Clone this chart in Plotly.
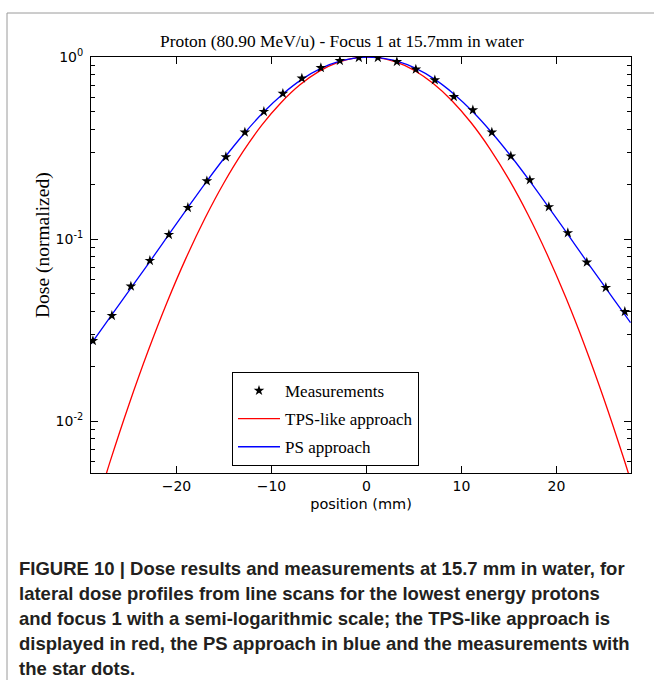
import plotly.graph_objects as go

# Measured lateral dose profile (position in mm, dose normalised to the peak)
meas_pos = [-28.8, -26.8, -24.8, -22.8, -20.8, -18.8, -16.8, -14.8, -12.8, -10.8,
            -8.8, -6.8, -4.8, -2.8, -0.8, 1.2, 3.2, 5.2, 7.2, 9.2,
            11.2, 13.2, 15.2, 17.2, 19.2, 21.2, 23.2, 25.2, 27.2]
meas_dose = [0.0276, 0.0379, 0.0550, 0.0760, 0.1057, 0.1486, 0.2083, 0.2823, 0.3857, 0.5006,
             0.630, 0.764, 0.873, 0.954, 0.991, 0.991, 0.942, 0.856, 0.747, 0.605,
             0.511, 0.386, 0.285, 0.211, 0.150, 0.108, 0.0745, 0.054, 0.0399]

# TPS-like approach
tps_pos = [-29, -27, -25, -23, -21, -19, -17, -15, -13, -11, -9, -7, -5, -3, -1, 0,
           1, 3, 5, 7, 9, 11, 13, 15, 17, 19, 21, 23, 25, 27, 28]
tps_dose = [0.00272, 0.00596, 0.01233, 0.02416, 0.0448, 0.0785, 0.130, 0.2038, 0.302, 0.4236,
            0.561, 0.7036, 0.834, 0.935, 0.9916, 1.0,
            0.9944, 0.943, 0.846, 0.717, 0.575, 0.4365, 0.313, 0.2125, 0.1363, 0.0827,
            0.0475, 0.02577, 0.01322, 0.00642, 0.00438]

# PS approach
ps_pos = [-29.0, -28.8, -26.8, -24.8, -22.8, -20.8, -18.8, -16.8, -14.8, -12.8, -10.8,
          -8.8, -6.8, -4.8, -2.8, -0.8, 0.2, 1.2, 3.2, 5.2, 7.2, 9.2,
          11.2, 13.2, 15.2, 17.2, 19.2, 21.2, 23.2, 25.2, 27.2, 27.8]
ps_dose = [0.0265, 0.0274, 0.0384, 0.0537, 0.0752, 0.1059, 0.1489, 0.2080, 0.2858, 0.3837, 0.5000,
           0.6266, 0.7534, 0.8650, 0.9484, 0.9908, 1.0, 0.9908, 0.9484, 0.8650, 0.7534, 0.6266,
           0.5000, 0.3837, 0.2858, 0.2080, 0.1489, 0.1059, 0.0752, 0.0537, 0.0384, 0.0347]

y_ticks = [0.01, 0.1, 1]
y_ticktext = ["10<sup>-2</sup>", "10<sup>-1</sup>", "10<sup>0</sup>"]
y_minor = [0.006, 0.007, 0.008, 0.009,
           0.02, 0.03, 0.04, 0.05, 0.06, 0.07, 0.08, 0.09,
           0.2, 0.3, 0.4, 0.5, 0.6, 0.7, 0.8, 0.9]
x_ticks = [-20, -10, 0, 10, 20]

caption_lines = [
    "FIGURE 10 | Dose results and measurements at 15.7 mm in water, for",
    "lateral dose profiles from line scans for the lowest energy protons",
    "and focus 1 with a semi-logarithmic scale; the TPS-like approach is",
    "displayed in red, the PS approach in blue and the measurements with",
    "the star dots.",
]

SERIF = "Liberation Serif"
SANS = "DejaVu Sans"

fig = go.Figure()
fig.add_trace(go.Scatter(x=tps_pos, y=tps_dose, mode="lines", name="TPS-like approach",
                         line=dict(color="#ff0000", width=1.3, shape="spline"),
                         legendrank=2, legendgroup="b"))
fig.add_trace(go.Scatter(x=ps_pos, y=ps_dose, mode="lines", name="PS approach",
                         line=dict(color="#0000ff", width=1.3, shape="spline"),
                         legendrank=3, legendgroup="c"))
fig.add_trace(go.Scatter(x=meas_pos, y=meas_dose, mode="markers", name="Measurements",
                         marker=dict(symbol="star", size=8, color="black",
                                     line=dict(width=0)),
                         legendrank=1, legendgroup="a"))

L, R, T, B = 91, 631, 57, 473
W, H = 654, 680


def px(x):
    return (x - L) / (R - L)


def py(y):
    return (B - y) / (B - T)


annotations = [
    dict(text="Proton (80.90 MeV/u) - Focus 1 at 15.7mm in water",
         x=px(342), y=py(41), xref="paper", yref="paper", showarrow=False,
         xanchor="center", yanchor="middle",
         font=dict(family=SERIF, size=17.4, color="black")),
    dict(text="Dose (normalized)", textangle=-90,
         x=px(43), y=py(245), xref="paper", yref="paper", showarrow=False,
         xanchor="center", yanchor="middle",
         font=dict(family=SERIF, size=19.5, color="black")),
]
for i, line in enumerate(caption_lines):
    annotations.append(dict(text="<b>" + line + "</b>", x=px(17), y=py(568 + i * 25),
                            xref="paper", yref="paper", showarrow=False,
                            xanchor="left", yanchor="middle",
                            font=dict(family="Liberation Sans", size=18.5, color="#231f20")))

shapes = [
    dict(type="line", xref="paper", yref="paper", x0=px(7), x1=px(654), y0=py(13), y1=py(13),
         line=dict(color="#9a9a9a", width=1)),
    dict(type="line", xref="paper", yref="paper", x0=px(7), x1=px(7), y0=py(13), y1=py(680),
         line=dict(color="#9a9a9a", width=1)),
]

fig.update_layout(
    width=W, height=H,
    margin=dict(l=L, r=W - R, t=T, b=H - B),
    paper_bgcolor="white", plot_bgcolor="white",
    showlegend=True,
    legend=dict(x=px(232), y=py(372), xanchor="left", yanchor="top",
                bgcolor="white", bordercolor="black", borderwidth=1,
                font=dict(family=SERIF, size=17, color="black"),
                itemwidth=42,
                traceorder="grouped", tracegroupgap=3),
    annotations=annotations,
    shapes=shapes,
)
fig.update_xaxes(range=[-29.0, 27.85], tickvals=x_ticks, ticks="inside", ticklen=7,
                 tickcolor="black", showline=True, linecolor="black", linewidth=1,
                 mirror="allticks", showgrid=False, zeroline=False,
                 tickfont=dict(family=SANS, size=14, color="black"),
                 title=dict(text="position (mm)", standoff=6,
                            font=dict(family=SANS, size=14.5, color="black")))
fig.update_yaxes(type="log", range=[-2.2857, 0], tickvals=y_ticks, ticktext=y_ticktext,
                 ticks="inside", ticklen=7, tickcolor="black",
                 showline=True, linecolor="black", linewidth=1,
                 mirror="allticks", showgrid=False, zeroline=False,
                 ticklabelstandoff=4,
                 tickfont=dict(family=SANS, size=14, color="black"),
                 minor=dict(tickvals=y_minor, ticks="inside", ticklen=4,
                            tickcolor="black", showgrid=False))

fig.write_html("out.html")
